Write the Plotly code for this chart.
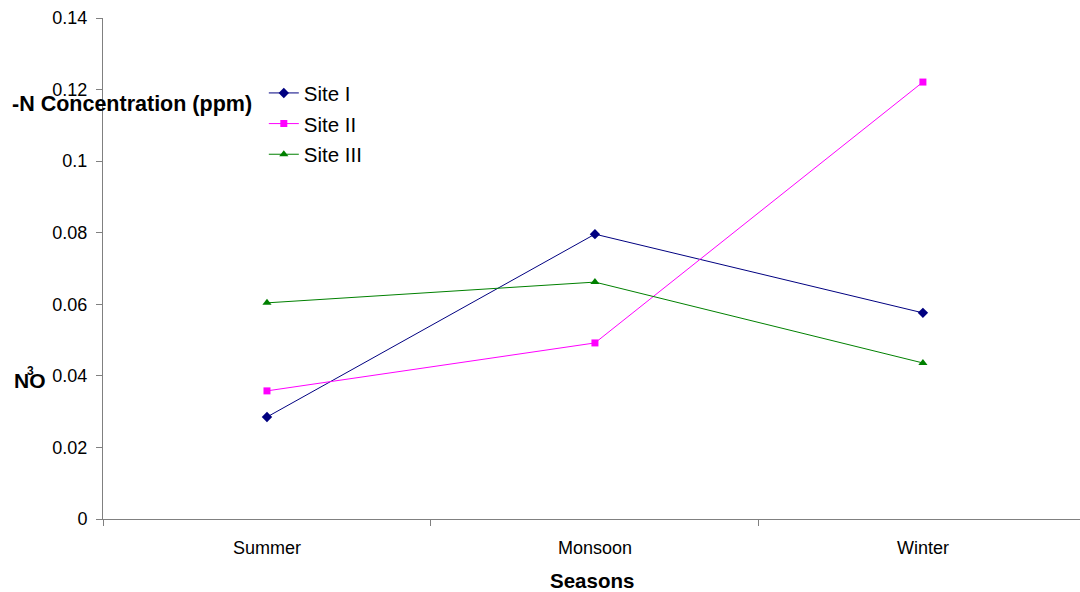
import plotly.graph_objects as go

seasons = ["Summer", "Monsoon", "Winter"]
site1 = [0.0285, 0.0796, 0.0576]
site2 = [0.0358, 0.0492, 0.1221]
site3 = [0.0604, 0.0662, 0.0436]
y_ticks = [0, 0.02, 0.04, 0.06, 0.08, 0.1, 0.12, 0.14]
y_ticktext = ["0", "0.02", "0.04", "0.06", "0.08", "0.1", "0.12", "0.14"]

FONT = "Liberation Sans, Arial, sans-serif"

fig = go.Figure()
fig.add_trace(go.Scatter(x=seasons, y=site1, name="Site I", mode="lines+markers",
                         legendgroup="a",
                         line=dict(color="#000080", width=1),
                         marker=dict(symbol="diamond", size=8, color="#000080")))
fig.add_trace(go.Scatter(x=seasons, y=site2, name="Site II", mode="lines+markers",
                         legendgroup="b",
                         line=dict(color="#FF00FF", width=1),
                         marker=dict(symbol="square", size=7, color="#FF00FF")))
fig.add_trace(go.Scatter(x=seasons, y=site3, name="Site III", mode="lines+markers",
                         legendgroup="c",
                         line=dict(color="#008000", width=1),
                         marker=dict(symbol="triangle-up", size=8, color="#008000")))

fig.update_layout(
    width=1080, height=592,
    margin=dict(l=103, r=0, t=18, b=73, autoexpand=False),
    paper_bgcolor="white", plot_bgcolor="white",
    font=dict(family=FONT, size=18, color="black"),
    showlegend=True,
    legend=dict(x=0.1646, y=0.89, xanchor="left", yanchor="top",
                bgcolor="rgba(0,0,0,0)", font=dict(size=20.5, family=FONT),
                itemwidth=30, tracegroupgap=1),
)
fig.update_xaxes(
    type="category", range=[-0.5, 2.479], automargin=False,
    showline=True, linecolor="#808080", linewidth=1,
    ticks="outside", tickson="boundaries", ticklen=6, tickcolor="#808080",
    showgrid=False, zeroline=False,
    tickfont=dict(size=18, family=FONT), ticklabelstandoff=12,
)
fig.update_yaxes(
    range=[0, 0.14], tickvals=y_ticks, ticktext=y_ticktext, automargin=False,
    showline=True, linecolor="#808080", linewidth=1,
    ticks="outside", ticklen=6, tickcolor="#808080",
    showgrid=False, zeroline=False,
    tickfont=dict(size=18, family=FONT), ticklabelstandoff=5,
)

fig.add_annotation(text="<b>Seasons</b>", xref="paper", yref="paper",
                   x=0.5, y=-0.1218, xanchor="center", yanchor="middle",
                   showarrow=False, font=dict(size=20.5, family=FONT))
fig.add_annotation(text="<b>-N Concentration (ppm)</b>", xref="paper", yref="paper",
                   x=-0.0952, y=0.828, xanchor="left", yanchor="middle",
                   showarrow=False, font=dict(size=21.5, family=FONT))
fig.add_annotation(text="<b>NO</b>", xref="paper", yref="paper",
                   x=-0.0931, y=0.2774, xanchor="left", yanchor="middle",
                   showarrow=False, font=dict(size=21, family=FONT))
fig.add_annotation(text="<b>3</b>", xref="paper", yref="paper",
                   x=-0.0747, y=0.2954, xanchor="center", yanchor="middle",
                   showarrow=False, font=dict(size=12, family=FONT))

fig.write_html("out.html",
               config={"displayModeBar": False},
               post_script="document.body.style.margin='0';document.body.style.overflow='hidden';")
